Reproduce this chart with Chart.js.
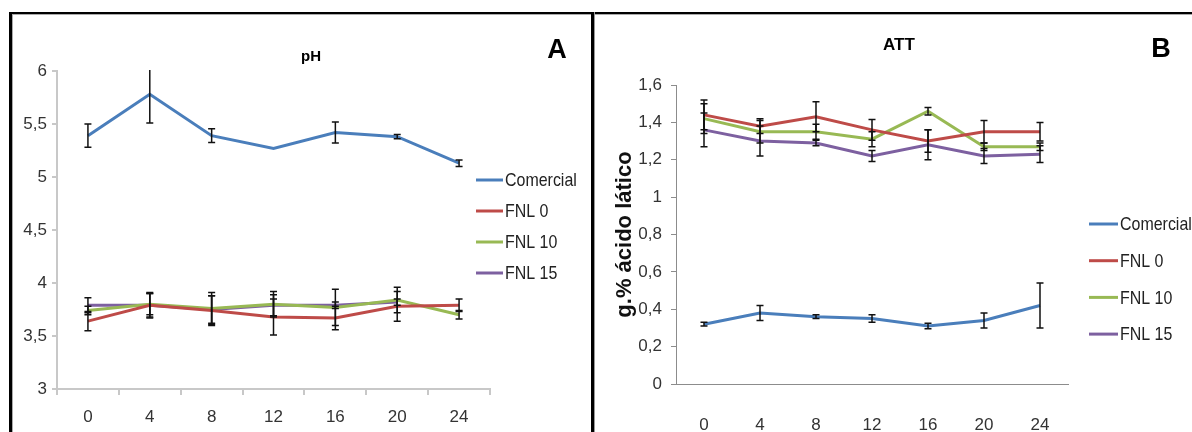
<!DOCTYPE html>
<html>
<head>
<script src="https://cdn.jsdelivr.net/npm/chart.js@4.4.1/dist/chart.umd.min.js"></script>
<style>
  body { margin: 0; background: #fff; width: 1192px; height: 432px; overflow: hidden; position: relative; }
  #frame { position: absolute; left: 9px; top: 12px; width: 1190px; height: 430px;
           border-top: 2px solid #000; border-left: 3px solid #000; box-shadow: inset 1px 1px 0 #aaa; }
  #divider { position: absolute; left: 591px; top: 12px; width: 3px; height: 420px; background: #000;
             box-shadow: 1px 0 0 #999; }
  canvas { position: absolute; top: 0; }
</style>
</head>
<body>
<div id="frame"></div>
<div id="divider"></div>
<canvas id="chartA" width="591" height="432" style="left:0"></canvas>
<canvas id="chartB" width="599" height="432" style="left:593px"></canvas>

<script>
    const weeks = ["0", "4", "8", "12", "16", "20", "24"];
    const seriesNames = ["Comercial", "FNL 0", "FNL 10", "FNL 15"];
    const seriesColors = ["#4A7EBB", "#BE4B48", "#98B954", "#7D60A0"];

    // pH (panel A)
    const phComercial = [5.39, 5.78, 5.39, 5.27, 5.42, 5.38, 5.13];
    const phComercialErr = [0.11, 0.27, 0.065, 0, 0.10, 0.02, 0.03];
    const phFnl0 = [3.64, 3.79, 3.74, 3.68, 3.67, 3.78, 3.79];
    const phFnl0Err = [0.09, 0.11, 0.14, 0.17, 0.11, 0.14, 0.06];
    const phFnl10 = [3.74, 3.80, 3.76, 3.80, 3.77, 3.84, 3.70];
    const phFnl10Err = [0.04, 0.10, 0.15, 0.12, 0.17, 0.12, 0.04];
    const phFnl15 = [3.79, 3.79, 3.75, 3.79, 3.79, 3.82, null];
    const phFnl15Err = [0.07, 0.12, 0.13, 0.10, 0.03, 0.03, null];
    const phTicks = [3, 3.5, 4, 4.5, 5, 5.5, 6];

    // ATT (panel B)
    const attComercial = [0.32, 0.38, 0.36, 0.35, 0.31, 0.34, 0.42];
    const attComercialErr = [0.01, 0.04, 0.01, 0.02, 0.015, 0.04, 0.12];
    const attFnl0 = [1.44, 1.38, 1.43, 1.36, 1.30, 1.35, 1.35];
    const attFnl0Err = [0.08, 0.04, 0.08, 0.055, 0.06, 0.06, 0.05];
    const attFnl10 = [1.42, 1.35, 1.35, 1.31, 1.46, 1.27, 1.27];
    const attFnl10Err = [0.08, 0.06, 0.04, 0.04, 0.02, 0.02, 0.02];
    const attFnl15 = [1.36, 1.30, 1.29, 1.22, 1.28, 1.22, 1.23];
    const attFnl15Err = [0.09, 0.08, 0.015, 0.03, 0.08, 0.04, 0.045];
    const attTicks = [0, 0.2, 0.4, 0.6, 0.8, 1, 1.2, 1.4, 1.6];

    const FONT = "'Liberation Sans', Arial, sans-serif";
    Chart.defaults.font.family = FONT;
    Chart.defaults.color = "#333";

    const comma = v => String(v).replace(".", ",");

    function makeDatasets(values, errors) {
        return values.map((vals, i) => ({
            label: seriesNames[i],
            data: vals,
            errors: errors[i],
            borderColor: seriesColors[i],
            backgroundColor: seriesColors[i],
            borderWidth: 3,
            pointRadius: 0,
            tension: 0,
            spanGaps: false
        }));
    }

    // error bars drawn from the scales
    const errorBars = {
        id: "errorBars",
        afterDatasetsDraw(chart) {
            const ctx = chart.ctx, x = chart.scales.x, y = chart.scales.y, area = chart.chartArea;
            ctx.save();
            ctx.beginPath();
            ctx.rect(area.left, area.top - 1, area.right - area.left, area.bottom - area.top + 2);
            ctx.clip();
            ctx.strokeStyle = "#111";
            ctx.lineWidth = 1.5;
            chart.data.datasets.forEach(ds => {
                ds.data.forEach((v, i) => {
                    const e = ds.errors[i];
                    if (v === null || !e) return;
                    const px = x.getPixelForValue(i);
                    const top = y.getPixelForValue(v + e), bot = y.getPixelForValue(v - e);
                    ctx.beginPath();
                    ctx.moveTo(px, top); ctx.lineTo(px, bot);
                    ctx.moveTo(px - 3.5, top); ctx.lineTo(px + 3.5, top);
                    ctx.moveTo(px - 3.5, bot); ctx.lineTo(px + 3.5, bot);
                    ctx.stroke();
                });
            });
            ctx.restore();
        }
    };

    // title, panel letter and legend (legend text slightly condensed like the original)
    const panelText = {
        id: "panelText",
        afterDraw(chart, args, o) {
            const ctx = chart.ctx;
            ctx.save();
            ctx.textAlign = "center";
            ctx.textBaseline = "middle";
            ctx.fillStyle = "#000";
            ctx.font = "bold " + o.titleSize + "px " + FONT;
            ctx.fillText(o.title, o.titleX, o.titleY);
            ctx.font = "bold " + o.letterSize + "px " + FONT;
            ctx.fillText(o.letter, o.letterX, o.letterY);
            ctx.textAlign = "left";
            ctx.font = o.legendSize + "px " + FONT;
            chart.data.datasets.forEach((ds, i) => {
                const yy = o.legendY + i * o.legendStep;
                ctx.strokeStyle = ds.borderColor;
                ctx.lineWidth = 3;
                ctx.beginPath();
                ctx.moveTo(o.legendX, yy);
                ctx.lineTo(o.legendX + o.legendLine, yy);
                ctx.stroke();
                ctx.fillStyle = "#222";
                ctx.save();
                ctx.translate(o.legendX + o.legendLine + 2, yy + 1);
                ctx.scale(0.84, 1);
                ctx.fillText(ds.label, 0, 0);
                ctx.restore();
            });
            ctx.restore();
        }
    };

    const chartA = new Chart("chartA", {
        type: "line",
        data: {
            labels: weeks,
            datasets: makeDatasets([phComercial, phFnl0, phFnl10, phFnl15],
                                   [phComercialErr, phFnl0Err, phFnl10Err, phFnl15Err])
        },
        plugins: [errorBars, panelText],
        options: {
            responsive: false,
            animation: false,
            layout: { padding: { left: 0, top: 71, right: 101, bottom: 0 } },
            plugins: {
                legend: { display: false },
                tooltip: { enabled: false },
                panelText: {
                    title: "pH", titleSize: 15, titleX: 311, titleY: 57,
                    letter: "A", letterSize: 27, letterX: 557, letterY: 51,
                    legendX: 476, legendY: 180, legendStep: 31, legendLine: 27, legendSize: 19
                }
            },
            scales: {
                x: {
                    offset: true,
                    grid: { offset: true, drawOnChartArea: false, tickLength: 6, color: "#C8C8C8", lineWidth: 2 },
                    border: { color: "#C8C8C8", width: 2 },
                    ticks: { font: { size: 17 }, padding: 12, color: "#333" },
                    afterFit: s => { s.height = 43; }
                },
                y: {
                    min: phTicks[0],
                    max: phTicks[phTicks.length - 1],
                    afterBuildTicks: s => { s.ticks = phTicks.map(v => ({ value: v })); },
                    grid: { drawOnChartArea: false, tickLength: 5, color: "#C8C8C8", lineWidth: 2 },
                    border: { color: "#C8C8C8", width: 2 },
                    ticks: { font: { size: 17 }, padding: 5, color: "#333", callback: comma },
                    afterFit: s => { s.width = 57; }
                }
            }
        }
    });

    const chartB = new Chart("chartB", {
        type: "line",
        data: {
            labels: weeks,
            datasets: makeDatasets([attComercial, attFnl0, attFnl10, attFnl15],
                                   [attComercialErr, attFnl0Err, attFnl10Err, attFnl15Err])
        },
        plugins: [errorBars, panelText],
        options: {
            responsive: false,
            animation: false,
            layout: { padding: { left: 0, top: 85, right: 124, bottom: 0 } },
            plugins: {
                legend: { display: false },
                tooltip: { enabled: false },
                panelText: {
                    title: "ATT", titleSize: 17, titleX: 306, titleY: 45,
                    letter: "B", letterSize: 27, letterX: 568, letterY: 50,
                    legendX: 496, legendY: 224, legendStep: 36.7, legendLine: 29, legendSize: 19
                }
            },
            scales: {
                x: {
                    offset: true,
                    grid: { display: false },
                    border: { display: true, color: "#8C8C8C", width: 1 },
                    ticks: { font: { size: 17 }, padding: 23, color: "#333" },
                    afterFit: s => { s.height = 48; }
                },
                y: {
                    min: attTicks[0],
                    max: attTicks[attTicks.length - 1],
                    afterBuildTicks: s => { s.ticks = attTicks.map(v => ({ value: v })); },
                    grid: { drawOnChartArea: false, tickLength: 5, color: "#8C8C8C" },
                    border: { color: "#8C8C8C", width: 1 },
                    ticks: { font: { size: 17 }, padding: 9, color: "#333", callback: comma },
                    title: {
                        display: true,
                        text: "g.% ácido lático",
                        color: "#111",
                        font: { size: 22, weight: "bold" },
                        padding: { top: 19, bottom: 0 }
                    },
                    afterFit: s => { s.width = 83; }
                }
            }
        }
    });
</script>
</body>
</html>
